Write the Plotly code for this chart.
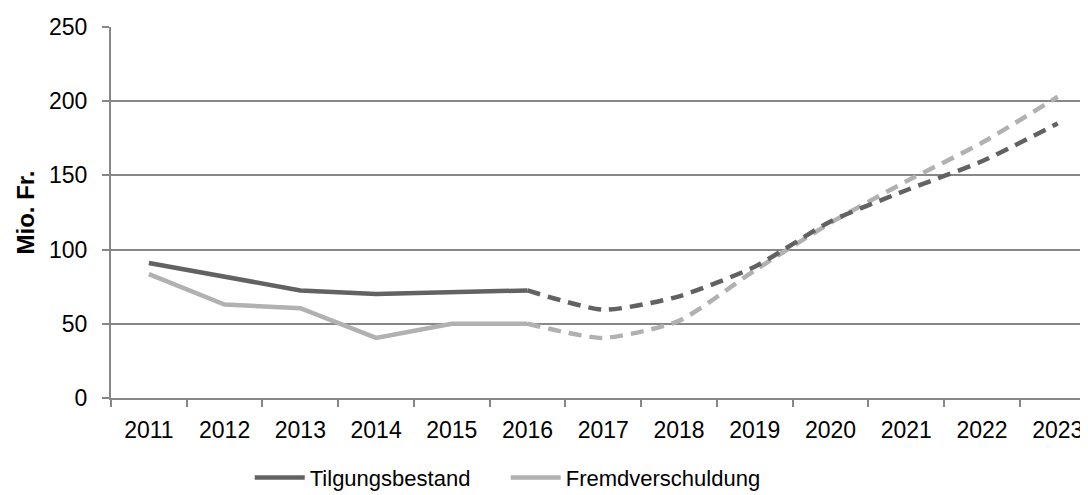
import plotly.graph_objects as go

years = ["2011", "2012", "2013", "2014", "2015", "2016", "2017",
         "2018", "2019", "2020", "2021", "2022", "2023"]
tilgung = [91, 82, 72.5, 70, 71, 72.5, 59.5, 68.5, 88.5, 119, 140, 159.5, 185]
fremd = [83.5, 63, 60.5, 40.5, 50, 50, 40.5, 52, 86, 118, 146, 172, 203]
split = 5  # index of 2016: actual values up to here, forecast afterwards

DARK = "#626262"
LIGHT = "#b1b1b1"
GRID = "#878787"
FONT = "Liberation Sans, Arial, sans-serif"

fig = go.Figure()

# forecast (dashed, smoothed)
fig.add_trace(go.Scatter(x=years[split:], y=fremd[split:], mode="lines",
                         line=dict(color=LIGHT, width=4.5, dash="13px,8px", shape="spline", smoothing=0.6),
                         showlegend=False, hoverinfo="skip"))
fig.add_trace(go.Scatter(x=years[split:], y=tilgung[split:], mode="lines",
                         line=dict(color=DARK, width=4.5, dash="13px,8px", shape="spline", smoothing=0.6),
                         showlegend=False, hoverinfo="skip"))
# actual (solid)
fig.add_trace(go.Scatter(x=years[:split + 1], y=fremd[:split + 1], mode="lines",
                         line=dict(color=LIGHT, width=4.5),
                         name="Fremdverschuldung", legendrank=2))
fig.add_trace(go.Scatter(x=years[:split + 1], y=tilgung[:split + 1], mode="lines",
                         line=dict(color=DARK, width=4.5),
                         name="Tilgungsbestand", legendrank=1))

fig.update_layout(
    width=1080, height=487,
    margin=dict(l=103, r=0, t=19, b=97, autoexpand=False),
    paper_bgcolor="white", plot_bgcolor="white",
    font=dict(family=FONT, size=23, color="black"),
    showlegend=True,
    legend=dict(orientation="h", x=0.142, xanchor="left", y=-0.158, yanchor="top",
                font=dict(size=22), itemwidth=50, entrywidth=191,
                traceorder="normal", tracegroupgap=0, bgcolor="rgba(0,0,0,0)"),
)

fig.update_xaxes(
    type="category", categoryorder="array", categoryarray=years,
    range=[-0.5, 12.4],
    tickson="boundaries", ticks="outside", ticklen=7, tickwidth=2, tickcolor=GRID,
    showline=True, linecolor=GRID, linewidth=2,
    showgrid=False, fixedrange=True,
    tickfont=dict(size=23), ticklabelstandoff=10,
)
fig.update_yaxes(
    range=[0, 250], tickvals=[0, 50, 100, 150, 200, 250],
    ticks="outside", ticklen=7, tickwidth=2, tickcolor=GRID,
    showline=True, linecolor=GRID, linewidth=2,
    showgrid=True, gridcolor=GRID, gridwidth=2,
    zeroline=False, fixedrange=True,
    tickfont=dict(size=23), ticklabelstandoff=10,
    title=dict(text="<b>Mio. Fr.</b>", font=dict(size=24), standoff=8),
)

fig.write_html("out.html")
